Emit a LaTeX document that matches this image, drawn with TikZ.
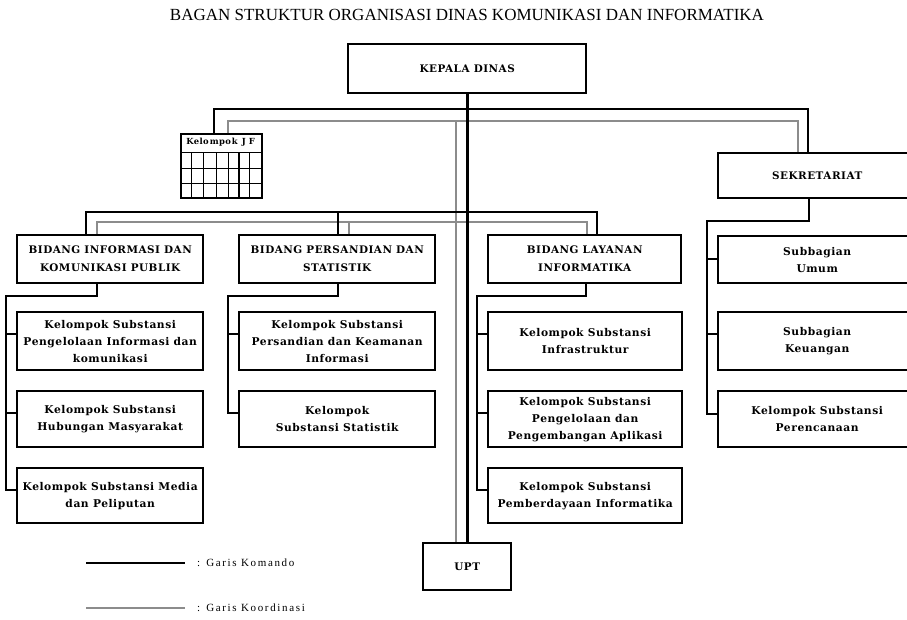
\documentclass[tikz,border=0pt]{standalone}
\usepackage{fontspec}
\setmainfont{Liberation Serif}
\newfontfamily\boxfont[LetterSpace=5]{DejaVu Serif}
\newfontfamily\legfont[LetterSpace=15]{Liberation Serif}
\begin{document}
\begin{tikzpicture}[x=1pt,y=-1pt,
  cmd/.style={line width=2.6pt},
  cmdthin/.style={line width=1.3pt},
  coordl/.style={draw=black!75, line width=0.6pt, double=black!45, double distance=1.1pt},
  unit/.style 2 args={draw, line width=2.4pt, align=center, inner sep=0pt, anchor=north west,
    minimum width=#1, minimum height=#2, font=\boxfont\bfseries\fontsize{10.7}{17}\selectfont},
  head/.style={font=\boxfont\bfseries\fontsize{10.4}{18}\selectfont},
  grid/.style={line width=0.8pt},
  legtext/.style={anchor=west, inner sep=0pt, font=\legfont\fontsize{11}{12}\selectfont}]
\clip (0,0) rectangle (907,619);
\fill[white] (0,0) rectangle (907,619);

% title
\node[font=\fontsize{17}{19}\selectfont] (title) at (467,15) {BAGAN STRUKTUR ORGANISASI DINAS KOMUNIKASI DAN INFORMATIKA};

% top
\node[unit={238pt}{49pt}, head] (kepala) at (347,43) {KEPALA DINAS};
\node[unit={88pt}{47pt}, head] (upt) at (422,542) {UPT};
\node[unit={198pt}{45pt}, head] (sek) at (717,152) {SEKRETARIAT};

% JF table
\node[draw, line width=1.6pt, anchor=north west, minimum width=81pt, minimum height=64pt, inner sep=0pt] (jf) at (180,133) {};
\node[anchor=north, inner sep=0pt, font=\boxfont\bfseries\fontsize{8.4}{9}\selectfont] (jft) at (220.5,137.5) {Kelo\hspace{1pt}mpo\hspace{1pt}k\hspace{4pt}J\hspace{3pt}F};
\draw[grid] (180,152) -- (261,152) (180,168) -- (261,168) (180,183) -- (261,183);
\foreach \xx in {191,203,216,228,249} {\draw[grid] (\xx,152) -- (\xx,197);}
\draw[line width=1.4pt] (239,152) -- (239,197);

% bidang row
\node[unit={186pt}{48pt}, head] (bid1) at (16,234) {BIDANG INFORMASI DAN\\KOMUNIKASI PUBLIK};
\node[unit={196pt}{48pt}, head] (bid2) at (238,234) {BIDANG PERSANDIAN DAN\\STATISTIK};
\node[unit={193pt}{48pt}, head] (bid3) at (487,234) {BIDANG LAYANAN\\INFORMATIKA};
\node[unit={198pt}{47pt}] (umum) at (717,235) {Subbagian\\Umum};

% sub boxes
\node[unit={186pt}{58pt}] (s11) at (16,311) {Kelompok Substansi\\Pengelolaan Informasi dan\\komunikasi};
\node[unit={186pt}{56pt}] (s12) at (16,390) {Kelompok Substansi\\Hubungan Masyarakat};
\node[unit={186pt}{55pt}] (s13) at (16,467) {Kelompok Substansi Media\\dan Peliputan};
\node[unit={196pt}{58pt}] (s21) at (238,311) {Kelompok Substansi\\Persandian dan Keamanan\\Informasi};
\node[unit={196pt}{56pt}] (s22) at (238,390) {Kelompok\\Substansi Statistik};
\node[unit={194pt}{58pt}] (s31) at (487,311) {Kelompok Substansi\\Infrastruktur};
\node[unit={194pt}{56pt}] (s32) at (487,390) {Kelompok Substansi\\Pengelolaan dan\\Pengembangan Aplikasi};
\node[unit={194pt}{55pt}] (s33) at (487,467) {Kelompok Substansi\\Pemberdayaan Informatika};
\node[unit={198pt}{58pt}] (s41) at (717,311) {Subbagian\\Keuangan};
\node[unit={198pt}{56pt}] (s42) at (717,390) {Kelompok Substansi\\Perencanaan};

% bus coordinates
\coordinate (xa) at (214,0);
\coordinate (xb) at (808,0);
\coordinate (xc) at (228,0);
\coordinate (xd) at (798,0);
\coordinate (xk) at (456,0);
\coordinate (x1) at (86,0);
\coordinate (x2) at (338,0);
\coordinate (x3) at (597,0);
\coordinate (y1) at (97,0);
\coordinate (y2) at (349,0);
\coordinate (y3) at (587,0);

% coordination lines
\draw[coordl] (jf.north -| xc) -- (228,121) -| (sek.north -| xd);
\draw[coordl] (456,121) -- (upt.north -| xk);
\draw[coordl] (bid1.north -| y1) -- (97,222) -| (bid3.north -| y3);
\draw[coordl] (bid2.north -| y2) -- (349,222);

% command lines
\draw[cmd] (kepala.south) -- (upt.north);
\draw[cmd] (jf.north -| xa) -- (214,109) -| (sek.north -| xb);
\draw[cmd] (bid1.north -| x1) -- (86,212) -| (bid3.north -| x3);
\draw[cmd] (bid2.north -| x2) -- (338,212);

% sub connectors
\coordinate (b1) at (97,0);
\coordinate (b2) at (338,0);
\coordinate (b3) at (586,0);
\coordinate (bs) at (809,0);
\draw[cmdthin] (bid1.south -| b1) -- (97,296) -| (6,490) -- (s13.west |- 0,490);
\draw[cmdthin] (6,334) -- (s11.west |- 0,334) (6,413) -- (s12.west |- 0,413);
\draw[cmdthin] (bid2.south -| b2) -- (338,296) -| (228,413) -- (s22.west |- 0,413);
\draw[cmdthin] (228,334) -- (s21.west |- 0,334);
\draw[cmdthin] (bid3.south -| b3) -- (586,296) -| (477,490) -- (s33.west |- 0,490);
\draw[cmdthin] (477,334) -- (s31.west |- 0,334) (477,413) -- (s32.west |- 0,413);
\draw[cmdthin] (sek.south -| bs) -- (809,221) -| (707,414) -- (s42.west |- 0,414);
\draw[cmdthin] (707,259) -- (umum.west |- 0,259) (707,334) -- (s41.west |- 0,334);

% legend
\coordinate (la) at (86,563);
\coordinate (lb) at (185,563);
\coordinate (lc) at (86,608);
\coordinate (ld) at (185,608);
\draw[line width=1.8pt] (la) -- (lb);
\draw[coordl] (lc) -- (ld);
\node[legtext] (lt1) at (197,563) {:\hspace{6pt}Garis Komando};
\node[legtext] (lt2) at (197,608) {:\hspace{6pt}Garis Koordinasi};
\end{tikzpicture}
\end{document}
